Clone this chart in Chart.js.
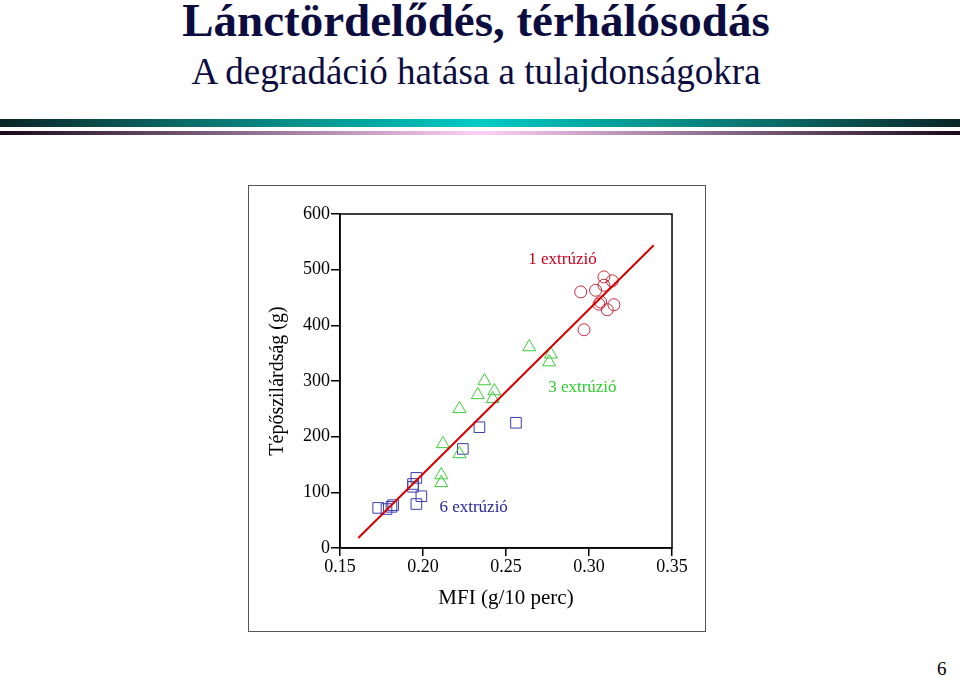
<!DOCTYPE html>
<html>
<head>
<meta charset="utf-8">
<script src="https://cdn.jsdelivr.net/npm/chart.js"></script>
<style>
    html, body { margin: 0; padding: 0; background: #fff; }
    body { width: 960px; height: 682px; position: relative; overflow: hidden; font-family: "Liberation Serif", "DejaVu Serif", serif; }
    .title { position: absolute; left: 0; width: 952px; text-align: center; color: #0c0c40; white-space: nowrap; line-height: 1.1; }
    #t1 { top: -5px; font-size: 47px; font-weight: bold; }
    #t2 { top: 52px; font-size: 37px; }
    .bar { position: absolute; left: 0; width: 960px; }
    #b1 { top: 119px; height: 8px; background: linear-gradient(to right, #0a2626, #0a6e6a 20%, #00ccc4 50%, #0a6e6a 80%, #0a2626); }
    #b2 { top: 131px; height: 4px; background: linear-gradient(to right, #1a0a1a, #8a6a8a 25%, #ffd0f6 50%, #8a6a8a 75%, #1a0a1a); }
    #frame { position: absolute; left: 248px; top: 185px; width: 456px; height: 445px; border: 1.5px solid #555; }
    #canv { position: absolute; left: 248px; top: 185px; }
    #page { position: absolute; left: 937px; top: 658px; font-size: 19px; color: #000; }
</style>
</head>
<body>
<div class="title" id="t1">Lánctördelődés, térhálósodás</div>
<div class="title" id="t2">A degradáció hatása a tulajdonságokra</div>
<div class="bar" id="b1"></div>
<div class="bar" id="b2"></div>
<div id="frame"></div>
<canvas id="canv" width="458" height="447"></canvas>
<div id="page">6</div>
<script>
// 1 extrúzió (körök)
const ext1X = [0.309, 0.314, 0.309, 0.304, 0.295, 0.307, 0.306, 0.315, 0.311, 0.297];
const ext1Y = [487, 480, 472, 463, 460, 442, 438, 437, 428, 392];
// 3 extrúzió (háromszögek)
const ext3X = [0.264, 0.277, 0.276, 0.237, 0.233, 0.243, 0.242, 0.222, 0.212, 0.222, 0.211, 0.211];
const ext3Y = [361, 348, 334, 300, 275, 282, 268, 250, 187, 169, 131, 117];
// 6 extrúzió (négyzetek)
const ext6X = [0.234, 0.256, 0.224, 0.196, 0.194, 0.194, 0.199, 0.196, 0.182, 0.181, 0.178, 0.173];
const ext6Y = [217, 225, 178, 126, 115, 110, 93, 79, 77, 74, 70, 72];
// illesztett egyenes
const fitX = [0.161, 0.339];
const fitY = [18, 544];
// feliratok
const labelText = ['1 extrúzió', '3 extrúzió', '6 extrúzió'];
const labelX = [0.284, 0.296, 0.2305];
const labelY = [519, 289, 72];
const labelColor = ['#c8001c', '#2ecc2e', '#2424a0'];
// tengelyek
const xTicks = [0.15, 0.20, 0.25, 0.30, 0.35];
const yTicks = [0, 100, 200, 300, 400, 500, 600];

const pts = (xs, ys) => xs.map((x, i) => ({ x, y: ys[i] }));
const serif = '"Liberation Serif", "DejaVu Serif", serif';

const boxPlugin = {
    id: 'box',
    afterDatasetsDraw(chart) {
        const { ctx, chartArea: a, scales } = chart;
        ctx.save();
        ctx.strokeStyle = '#000'; ctx.lineWidth = 1.5;
        ctx.strokeRect(a.left, a.top, a.right - a.left, a.bottom - a.top);
        ctx.font = '17px ' + serif; ctx.textAlign = 'center'; ctx.textBaseline = 'middle';
        labelText.forEach((t, i) => {
            ctx.fillStyle = labelColor[i];
            ctx.fillText(t, scales.x.getPixelForValue(labelX[i]), scales.y.getPixelForValue(labelY[i]));
        });
        ctx.restore();
    }
};

const canv = document.getElementById('canv');
const chart = new Chart(canv, {
    type: 'scatter',
    data: {
        datasets: [
            { type: 'line', data: pts(fitX, fitY), borderColor: '#d40000', borderWidth: 2, pointRadius: 0, fill: false },
            { data: pts(ext1X, ext1Y), pointStyle: 'circle', pointRadius: 6, borderColor: '#c82a3c', borderWidth: 1, backgroundColor: 'rgba(0,0,0,0)' },
            { data: pts(ext3X, ext3Y), pointStyle: 'triangle', pointRadius: 7.5, borderColor: '#3ccc3c', borderWidth: 1, backgroundColor: 'rgba(0,0,0,0)' },
            { data: pts(ext6X, ext6Y), pointStyle: 'rect', pointRadius: 7.5, borderColor: '#3c3cb0', borderWidth: 1, backgroundColor: 'rgba(0,0,0,0)' },
        ]
    },
    options: {
        responsive: false,
        animation: false,
        layout: { padding: { left: 0, top: 29, right: 34, bottom: 0 } },
        plugins: { legend: { display: false }, tooltip: { enabled: false } },
        scales: {
            x: {
                type: 'linear', min: 0.15, max: 0.35,
                afterBuildTicks(scale) { scale.ticks = xTicks.map(v => ({ value: v })); },
                afterFit(scale) { scale.height = 84; },
                grid: { drawOnChartArea: false, drawTicks: true, tickLength: 8, color: '#000', lineWidth: 1.5 },
                border: { color: '#000', width: 1.5 },
                ticks: { color: '#000', padding: 0, maxRotation: 0, font: { family: serif, size: 18 }, callback: v => v.toFixed(2) },
                title: { display: true, text: 'MFI (g/10 perc)', color: '#000', font: { family: serif, size: 21 }, padding: { top: 0, bottom: 21 } }
            },
            y: {
                type: 'linear', min: 0, max: 600,
                afterBuildTicks(scale) { scale.ticks = yTicks.map(v => ({ value: v })); },
                afterFit(scale) { scale.width = 92; },
                grid: { drawOnChartArea: false, drawTicks: true, tickLength: 9, color: '#000', lineWidth: 1.5 },
                border: { color: '#000', width: 1.5 },
                ticks: { color: '#000', padding: 1, font: { family: serif, size: 18 } },
                title: { display: true, text: 'Tépőszilárdság (g)', color: '#000', font: { family: serif, size: 20 }, padding: { top: 18, bottom: 0 } }
            }
        }
    },
    plugins: [boxPlugin]
});
</script>
</body>
</html>
